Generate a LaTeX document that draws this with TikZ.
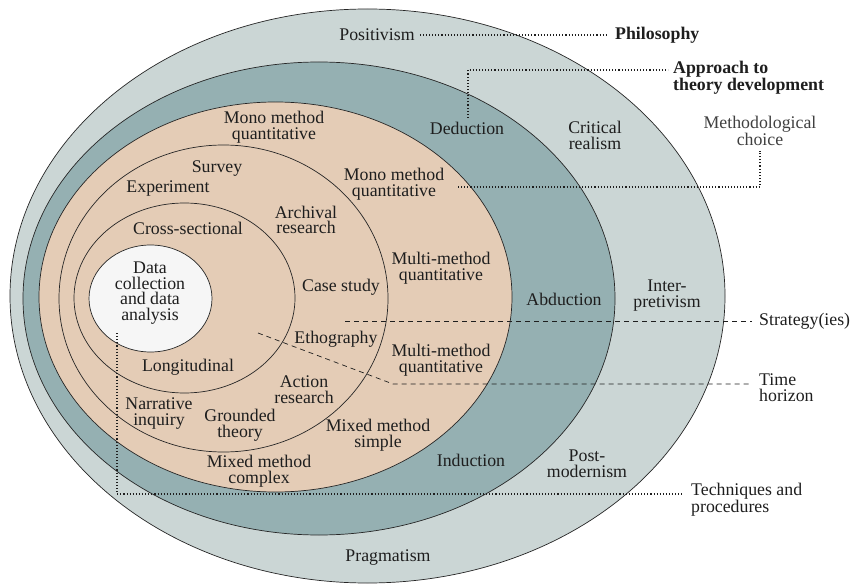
\documentclass[tikz,border=0pt]{standalone}
\usepackage{fontspec}
\setmainfont{Liberation Serif}
\definecolor{cOuter}{RGB}{203,214,213}
\definecolor{cTeal}{RGB}{149,176,178}
\definecolor{cTan}{RGB}{228,204,182}
\definecolor{cCore}{RGB}{246,246,246}
\definecolor{cText}{RGB}{30,30,30}
\begin{document}
\begin{tikzpicture}[x=1pt,y=-1pt,
  ring/.style={draw=black!85, line width=0.7pt},
  lbl/.style={font=\fontsize{17.8}{15.8}\selectfont, align=center, inner sep=1pt, text=cText},
  blbl/.style={font=\fontsize{17.8}{15.8}\selectfont\bfseries, align=left, inner sep=1pt, text=cText},
  llbl/.style={font=\fontsize{17.8}{15.8}\selectfont, align=left, inner sep=1pt, text=cText},
  dotln/.style={draw=cText, line width=1.1pt, dash pattern=on 1.1pt off 2pt},
  dashln/.style={draw=cText, line width=0.7pt, dash pattern=on 5pt off 4pt}]
\useasboundingbox (0,0) rectangle (853,585);
\fill[white] (0,0) rectangle (853,585);
% rings
\draw[ring, fill=cOuter] (367.5,296) ellipse [x radius=357.5, y radius=287];
\draw[ring, fill=cTeal] (319,298.5) ellipse [x radius=296, y radius=236.5];
\draw[ring, fill=cTan] (275.5,297) ellipse [x radius=236.5, y radius=195];
\draw[ring] (223.5,298.5) ellipse [x radius=164.5, y radius=153.5];
\draw[ring] (184.5,298) ellipse [x radius=110.5, y radius=95];
\draw[ring, fill=cCore] (150.5,298.5) ellipse [x radius=61.5, y radius=53.5];

% labels
\node[lbl] (positivism) at (377,35) {Positivism};
\node[blbl, anchor=west] (philosophy) at (614,35) {Philosophy};
\node[blbl, anchor=west] (approach) at (672,77.5) {Approach to\\theory development};
\node[lbl] (deduction) at (467,128) {Deduction};
\node[lbl] (critical) at (595,135.5) {Critical\\realism};
\node[lbl, text=cText!85] (methchoice) at (760,131) {Methodological\\choice};
\node[lbl] (mono1) at (274,127) {Mono method\\quantitative};
\node[lbl] (mono2) at (394,184.5) {Mono method\\quantitative};
\node[lbl] (survey) at (217,169) {Survey};
\node[lbl] (experiment) at (168,189) {Experiment};
\node[lbl] (cross) at (188,228) {Cross-sectional};
\node[lbl] (archival) at (306,220) {Archival\\research};
\node[lbl] (casestudy) at (341,287) {Case study};
\node[lbl] (multi1) at (441,268) {Multi-method\\quantitative};
\node[lbl] (core) at (150,293) {Data\\collection\\and data\\analysis};
\node[lbl] (abduction) at (564,299) {Abduction};
\node[lbl] (interp) at (667,295.5) {Inter-\\pretivism};
\node[llbl, anchor=west] (strategy) at (758,321) {Strategy(ies)};
\node[lbl] (ethography) at (336,339) {Ethography};
\node[llbl, anchor=west] (timehor) at (758,388) {Time\\horizon};
\node[lbl] (multi2) at (441,360) {Multi-method\\quantitative};
\node[lbl] (longit) at (188,367) {Longitudinal};
\node[lbl] (action) at (304,390) {Action\\research};
\node[lbl] (narrative) at (159,413.5) {Narrative\\inquiry};
\node[lbl] (grounded) at (240,425) {Grounded\\theory};
\node[lbl] (mixsimple) at (378,435.5) {Mixed method\\simple};
\node[lbl] (mixcomplex) at (259,471) {Mixed method\\complex};
\node[lbl] (induction) at (471,460) {Induction};
\node[lbl] (postmod) at (587,464) {Post-\\modernism};
\node[llbl, anchor=west] (techniques) at (690,500) {Techniques and\\procedures};
\node[lbl] (pragmatism) at (388,558) {Pragmatism};

% connectors
\coordinate (aptarget) at (668,70);
\coordinate (mcstart) at (458,187);
\coordinate (stratstart) at (345,321);
\coordinate (timestart) at (258,333);
\coordinate (timebend) at (393,384);
\coordinate (techstart) at (117,333);
\draw[dotln] ([xshift=4pt]positivism.east) -- ([xshift=-6pt]philosophy.west);
\draw[dotln] (468,118) |- (aptarget);
\draw[dotln] (mcstart) -| ([yshift=-4pt]methchoice.south);
\draw[dashln] (stratstart) -- ([xshift=-6pt]strategy.west);
\draw[dashln] (timestart) -- (timebend) -- ([xshift=-6pt]timebend -| timehor.west);
\draw[dotln] (techstart) |- ([xshift=-8pt]techniques.west |- 0,494);
\end{tikzpicture}
\end{document}
